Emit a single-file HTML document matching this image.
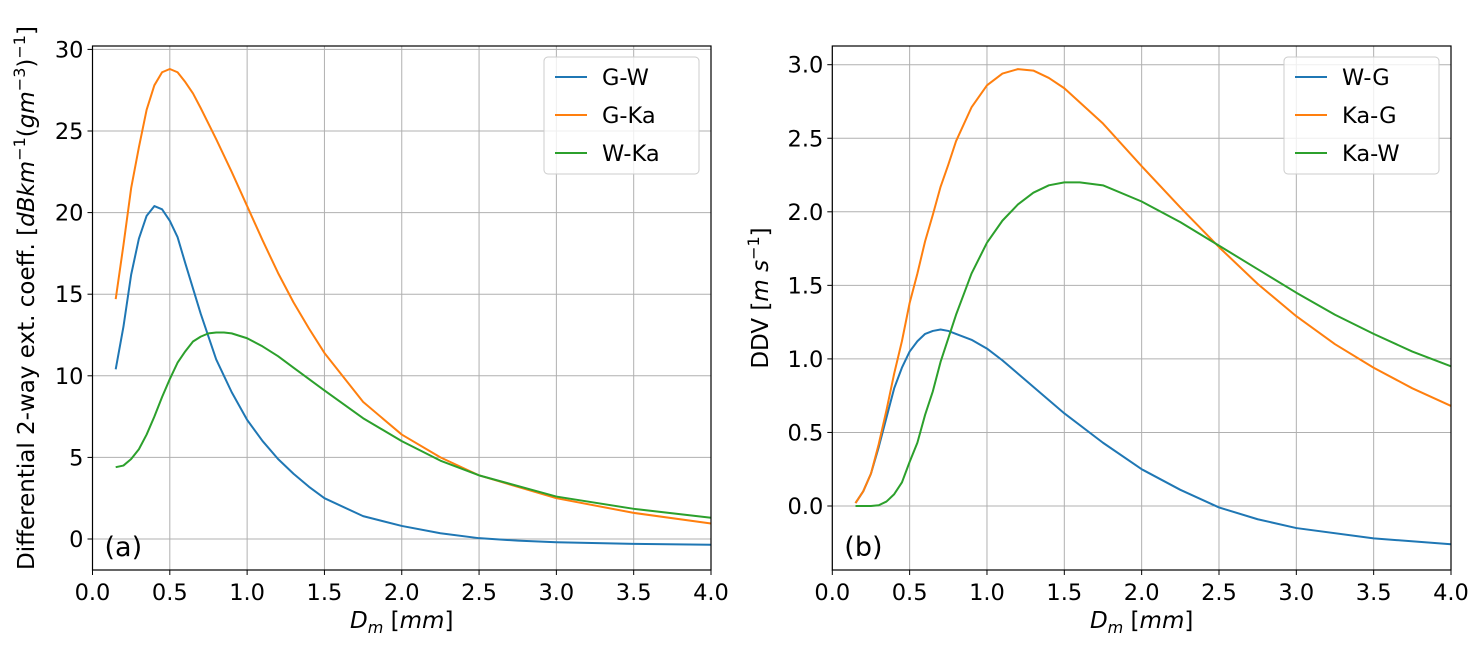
<!DOCTYPE html>
<html><head><meta charset="utf-8"><style>
body{margin:0;background:#fff;}
svg{display:block;font-family:"DejaVu Sans","Liberation Sans",sans-serif;}
</style></head><body>
<svg id="c" width="1482" height="646"></svg>
<script>
const xA_GW=[0.15,0.2,0.25,0.3,0.35,0.4,0.45,0.5,0.55,0.6,0.7,0.8,0.9,1.0,1.1,1.2,1.3,1.4,1.5,1.75,2.0,2.25,2.5,2.75,3.0,3.5,4.0];
const yA_GW=[10.4,13,16.2,18.4,19.8,20.4,20.2,19.5,18.5,16.9,13.8,11.0,9.0,7.3,6.0,4.9,4.0,3.2,2.5,1.4,0.8,0.35,0.05,-0.1,-0.2,-0.3,-0.35];
const xA_GKa=[0.15,0.2,0.25,0.3,0.35,0.4,0.45,0.5,0.55,0.6,0.65,0.7,0.8,0.9,1.0,1.1,1.2,1.3,1.4,1.5,1.75,2.0,2.25,2.5,3.0,3.5,4.0];
const yA_GKa=[14.7,18,21.5,24,26.3,27.8,28.6,28.8,28.6,28,27.3,26.4,24.5,22.5,20.4,18.3,16.3,14.5,12.9,11.4,8.4,6.4,5.0,3.9,2.5,1.6,0.95];
const xA_WKa=[0.15,0.2,0.25,0.3,0.35,0.4,0.45,0.5,0.55,0.6,0.65,0.7,0.75,0.8,0.85,0.9,1.0,1.1,1.2,1.3,1.4,1.5,1.75,2.0,2.25,2.5,3.0,3.5,4.0];
const yA_WKa=[4.4,4.5,4.9,5.5,6.4,7.5,8.7,9.8,10.8,11.5,12.1,12.4,12.6,12.65,12.65,12.6,12.3,11.8,11.2,10.5,9.8,9.1,7.4,6.0,4.8,3.9,2.6,1.85,1.3];
const xB_WG=[0.15,0.2,0.25,0.3,0.35,0.4,0.45,0.5,0.55,0.6,0.65,0.7,0.75,0.8,0.9,1.0,1.1,1.2,1.3,1.4,1.5,1.75,2.0,2.25,2.5,2.75,3.0,3.5,4.0];
const yB_WG=[0.02,0.1,0.22,0.4,0.6,0.8,0.94,1.05,1.12,1.17,1.19,1.2,1.19,1.17,1.13,1.07,0.99,0.9,0.81,0.72,0.63,0.43,0.25,0.11,-0.01,-0.09,-0.15,-0.22,-0.26];
const xB_KaG=[0.15,0.2,0.25,0.3,0.35,0.4,0.45,0.5,0.55,0.6,0.65,0.7,0.75,0.8,0.9,1.0,1.1,1.2,1.3,1.4,1.5,1.75,2.0,2.25,2.5,2.75,3.0,3.25,3.5,3.75,4.0];
const yB_KaG=[0.02,0.1,0.22,0.42,0.65,0.9,1.12,1.38,1.58,1.8,1.98,2.17,2.32,2.48,2.71,2.86,2.94,2.97,2.96,2.91,2.84,2.6,2.31,2.03,1.76,1.51,1.29,1.1,0.94,0.8,0.68];
const xB_KaW=[0.15,0.2,0.25,0.3,0.35,0.4,0.45,0.5,0.55,0.6,0.65,0.7,0.75,0.8,0.85,0.9,1.0,1.1,1.2,1.3,1.4,1.5,1.6,1.75,2.0,2.25,2.5,2.75,3.0,3.25,3.5,3.75,4.0];
const yB_KaW=[0.0,0.0,0.0,0.005,0.03,0.08,0.16,0.3,0.43,0.62,0.78,0.98,1.14,1.3,1.44,1.58,1.79,1.94,2.05,2.13,2.18,2.2,2.2,2.18,2.07,1.93,1.77,1.61,1.45,1.3,1.17,1.05,0.95];
const xTicks=["0.0","0.5","1.0","1.5","2.0","2.5","3.0","3.5","4.0"];
const yTicksA=["0","5","10","15","20","25","30"];
const yTicksB=["0.0","0.5","1.0","1.5","2.0","2.5","3.0"];
const C=["#1f77b4","#ff7f0e","#2ca02c"];
const NS="http://www.w3.org/2000/svg";
const svg=document.getElementById('c');
function el(t,a,p){const e=document.createElementNS(NS,t);for(const k in a)e.setAttribute(k,a[k]);(p||svg).appendChild(e);return e;}
function panel(o){
  const g=el('g',{});
  
  
  const X=v=>o.x0+(v-0)/4*(o.x1-o.x0);
  const Y=v=>o.yz+v*o.ys;
  xTicks.forEach(t=>{const px=X(+t);
    const gl=el('line',{x1:px,x2:px,y1:o.top,y2:o.bot,stroke:'#b0b0b0','stroke-width':1},g);
    
    el('line',{x1:px,x2:px,y1:o.bot,y2:o.bot+5,stroke:'#000'},g);
    const tx=el('text',{x:px,y:o.bot+30,'font-size':22.5,'text-anchor':'middle'},g);tx.textContent=t;
    });
  o.yt.forEach(t=>{const py=Y(+t);
    const gl=el('line',{x1:o.x0,x2:o.x1,y1:py,y2:py,stroke:'#b0b0b0','stroke-width':1},g);
    
    el('line',{x1:o.x0-5,x2:o.x0,y1:py,y2:py,stroke:'#000'},g);
    const tx=el('text',{x:o.x0-9,y:py+8,'font-size':22.5,'text-anchor':'end'},g);tx.textContent=t;
    });
  o.series.forEach((s,i)=>{
    const pl=el('polyline',{points:s.x.map((v,j)=>X(v)+','+Y(s.y[j])).join(' '),fill:'none',stroke:C[i],'stroke-width':2,'stroke-linejoin':'round'},g);
    });
  const fr=el('rect',{x:o.x0,y:o.top,width:o.x1-o.x0,height:o.bot-o.top,fill:'none',stroke:'#000','stroke-width':1.2},g);
  
  const pt=el('text',{x:o.x0+12,y:o.bot-14,'font-size':27},g);pt.textContent=o.tag;
  
  const lg=el('g',{},g);
  
  const lx=o.x1-167;
  el('rect',{x:lx,y:57,width:155,height:117,rx:4,fill:'#fff','fill-opacity':0.8,stroke:'#ccc'},lg);
  o.series.forEach((s,i)=>{const yy=77+i*38;
    el('line',{x1:lx+11,x2:lx+43,y1:yy,y2:yy,stroke:C[i],'stroke-width':2},lg);
    const t=el('text',{x:lx+58,y:yy+8,'font-size':22.5},lg);t.textContent=s.n;
    });
  const xl=el('text',{x:(o.x0+o.x1)/2,y:628,'font-size':23,'text-anchor':'middle'},g);
  xl.innerHTML='<tspan font-style="italic">D</tspan><tspan font-style="italic" font-size="16" dy="5">m</tspan><tspan dy="-5"> [</tspan><tspan font-style="italic">mm</tspan>]';
  
  const yl=el('text',{transform:`translate(${o.ylx},${(o.top+o.bot)/2-10}) rotate(-90)`,'font-size':23,'text-anchor':'middle'},g);
  yl.innerHTML=o.yl;
  
}
panel({name:'panel-a',x0:92.5,x1:711,top:46,bot:570,yz:539,ys:-16.32,yt:yTicksA,tag:'(a)',ylx:34,
  yl:'Differential 2-way ext. coeff. [<tspan font-style="italic">dBkm</tspan><tspan font-size="16" dy="-9">−1</tspan><tspan dy="9">(</tspan><tspan font-style="italic">gm</tspan><tspan font-size="16" dy="-9">−3</tspan><tspan dy="9">)</tspan><tspan font-size="16" dy="-9">−1</tspan><tspan dy="9">]</tspan>',
  series:[{n:'G-W',x:xA_GW,y:yA_GW},{n:'G-Ka',x:xA_GKa,y:yA_GKa},{n:'W-Ka',x:xA_WKa,y:yA_WKa}]});
panel({name:'panel-b',x0:832.3,x1:1451,top:46,bot:570,yz:506,ys:-147.1,yt:yTicksB,tag:'(b)',ylx:768,
  yl:'DDV [<tspan font-style="italic">m s</tspan><tspan font-size="16" dy="-9">−1</tspan><tspan dy="9">]</tspan>',
  series:[{n:'W-G',x:xB_WG,y:yB_WG},{n:'Ka-G',x:xB_KaG,y:yB_KaG},{n:'Ka-W',x:xB_KaW,y:yB_KaW}]});
</script>
</body></html>
